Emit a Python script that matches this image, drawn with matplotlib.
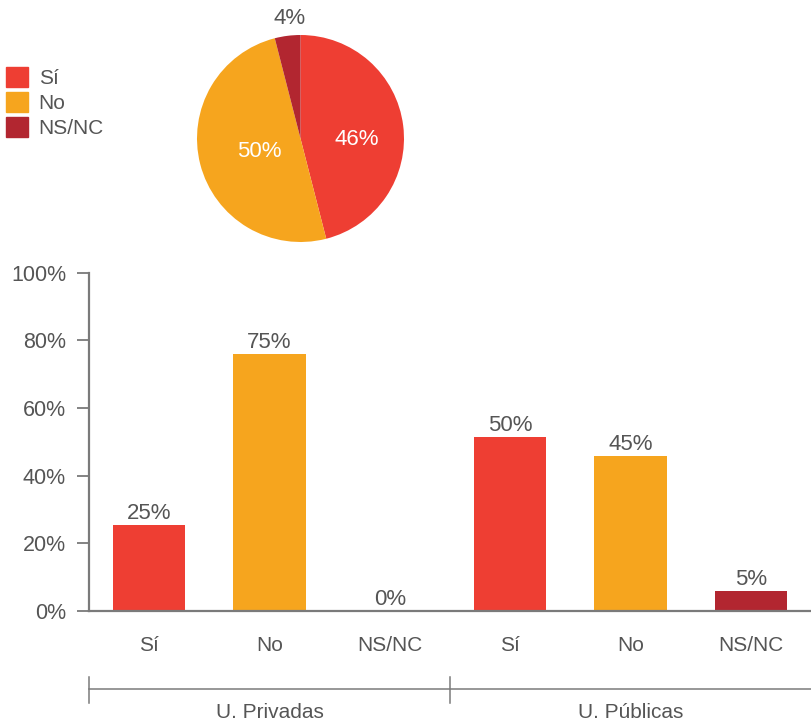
import numpy as np
import matplotlib.pyplot as plt

plt.rcParams['font.family'] = ['Liberation Sans', 'DejaVu Sans']

# data
answers = ["Sí", "No", "NS/NC"]
pie_values = [46, 50, 4]
pie_labels = ["46%", "50%", "4%"]

groups = ["U. Privadas", "U. Públicas"]
bar_cats = ["Sí", "No", "NS/NC", "Sí", "No", "NS/NC"]
bar_values = [25.4, 75.9, 0, 51.4, 45.8, 5.8]
bar_labels = ["25%", "75%", "0%", "50%", "45%", "5%"]

colors = {"Sí": "#EE3E33", "No": "#F6A51E", "NS/NC": "#B22630"}
text_col = "#555555"
axis_col = "#7a7a7a"

fig = plt.figure(figsize=(8.11, 7.25), dpi=100)

# ---- bar chart
ax = fig.add_axes([89/811, 1 - 610.7/725, 1 - 89/811, 338/725])
x = np.arange(len(bar_values))
ax.bar(x, bar_values, width=0.6, color=[colors[c] for c in bar_cats])
for xi, v, lab in zip(x, bar_values, bar_labels):
    ax.text(xi, v + 0.2, lab, ha='center', va='bottom', fontsize=16, color=text_col)

ax.set_xlim(-0.5, 5.5)
ax.set_ylim(0, 100)
ax.set_yticks([0, 20, 40, 60, 80, 100])
ax.set_yticklabels(["0%", "20%", "40%", "60%", "80%", "100%"])
ax.set_xticks(x)
ax.set_xticklabels(bar_cats)
ax.tick_params(axis='y', length=9, width=1.3, color=axis_col, labelsize=15.5,
               labelcolor=text_col, pad=7.5)
ax.tick_params(axis='x', length=0, labelsize=15, labelcolor=text_col, pad=18)
for s in ['top', 'right']:
    ax.spines[s].set_visible(False)
for s in ['left', 'bottom']:
    ax.spines[s].set_color(axis_col)
    ax.spines[s].set_linewidth(1.6)

# group bracket under the categories
tr = ax.get_xaxis_transform()
ax.plot([-0.5, 5.5], [-0.2317, -0.2317], color=axis_col, lw=1.1, transform=tr, clip_on=False)
for bx in [-0.5, 2.5]:
    ax.plot([bx, bx], [-0.196, -0.273], color=axis_col, lw=1.1, transform=tr, clip_on=False)
for gi, g in enumerate(groups):
    ax.text(gi * 3 + 1, -0.30, g, transform=tr, ha='center', va='center',
            fontsize=15, color=text_col)

# ---- pie chart
pax = fig.add_axes([197/811, 1 - 242/725, 207/811, 207/725])
wedges, _ = pax.pie(pie_values, colors=[colors[a] for a in answers],
                    startangle=90, counterclock=False, radius=1)
pax.set_xlim(-1, 1)
pax.set_ylim(-1, 1)
pax.set_aspect('equal')

# label spots inside/outside the wedges
label_xy = [(0.54, -0.01), (-0.40, -0.13), (-0.11, 1.16)]
lab_cols = ["white", "white", text_col]
for lab, (lx, ly), c in zip(pie_labels, label_xy, lab_cols):
    pax.text(lx, ly, lab, ha='center', va='center', fontsize=16, color=c, clip_on=False)

# ---- legend
handles = [plt.Rectangle((0, 0), 1, 1, color=colors[a]) for a in answers]
leg = fig.legend(handles, answers, loc='upper left', bbox_to_anchor=(0.0, 1 - 61/725),
                 frameon=False, fontsize=15, handlelength=1.06, handleheight=1.06,
                 handletextpad=0.5, labelspacing=0.2, borderaxespad=0, borderpad=0.3)
for t in leg.get_texts():
    t.set_color(text_col)

plt.savefig("out.png", dpi=100)
